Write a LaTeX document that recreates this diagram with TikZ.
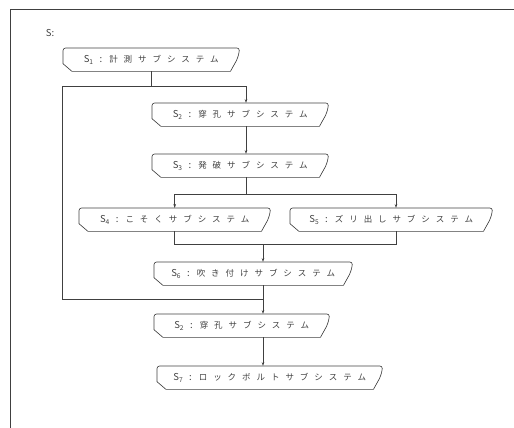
\documentclass[tikz,border=0pt]{standalone}
\usepackage{fontspec}
\usepackage{tikz}
\usetikzlibrary{arrows.meta,positioning}
\newfontfamily\jpfont{Noto Sans CJK JP}[LetterSpace=70]
\newfontfamily\jpplain{Noto Sans CJK JP}
\newcommand\subsys[2]{{\jpplain\fontsize{9.5}{10}\selectfont S\textsubscript{#1}\hspace{6pt}:\hspace{7pt}}#2}

\begin{document}
\begin{tikzpicture}[x=1pt,y=-1pt,>={Stealth[length=4pt,width=2.6pt]},
  line/.style={draw=black!75,line width=0.65pt},
  sub/.style={anchor=north west,minimum height=23pt,inner sep=0pt,font=\jpfont\fontsize{8.5}{10}\selectfont,text=black!75},
  outline/.style={draw=black!75,line width=0.65pt,line join=round}]
\useasboundingbox (0,0) rectangle (514,428);
\draw[line] (10,428) -- (10,9) -- (514,9);
\node[font=\jpplain\fontsize{9.5}{10}\selectfont,text=black!75] (lbl) at (50,33) {S:};
\node[sub,minimum width=176pt] (s1) at (63,48) {\subsys{1}{計測サブシステム}};
\node[sub,minimum width=176pt] (s2) at (152,103) {\subsys{2}{穿孔サブシステム}};
\node[sub,minimum width=176pt] (s3) at (152,154) {\subsys{3}{発破サブシステム}};
\node[sub,minimum width=191pt] (s4) at (79,208) {\subsys{4}{こそくサブシステム}};
\node[sub,minimum width=202pt] (s5) at (290,208) {\subsys{5}{ズリ出しサブシステム}};
\node[sub,minimum width=198pt] (s6) at (154,262) {\subsys{6}{吹き付けサブシステム}};
\node[sub,minimum width=175pt] (s2b) at (154,314) {\subsys{2}{穿孔サブシステム}};
\node[sub,minimum width=225pt] (s7) at (157,366) {\subsys{7}{ロックボルトサブシステム}};
\foreach \n in {s1,s2,s3,s4,s5,s6,s2b,s7}
  \draw[outline] ([xshift=9pt]\n.south west) -- ([yshift=-4pt]\n.west)
    {[rounded corners=2.5pt] -- (\n.north west) -- (\n.north east)}
    to[bend left=10] ([xshift=-3pt,yshift=-1pt]\n.east) -- ([xshift=-9pt]\n.south east) -- cycle;
\coordinate (lp) at (62,86);
\coordinate (lq) at (62,299);
\coordinate (xa) at (246,0);
\coordinate (xb) at (263,0);
\coordinate (x5) at (396,0);
\coordinate (sp) at (0,194);
\coordinate (jn) at (0,244);
\draw[line] (s1.south) -- (s1.south |- lp);
\draw[line,->] (lp) -| (s2.north -| xa);
\draw[line] (lp) -- (lq) -- (lq -| xb);
\draw[line,->] (s2.south -| xa) -- (s3.north -| xa);
\draw[line] (s3.south -| xa) -- (xa |- sp);
\draw[line,->] (s4.north |- sp) -- (s4.north);
\draw[line,->] (s4.north |- sp) -| (s5.north -| x5);
\draw[line] (s4.south) |- (x5 |- jn) -- (s5.south -| x5);
\draw[line,->] (xb |- jn) -- (s6.north -| xb);
\draw[line,->] (s6.south -| xb) -- (s2b.north -| xb);
\draw[line,->] (s2b.south -| xb) -- (s7.north -| xb);
\end{tikzpicture}
\end{document}
